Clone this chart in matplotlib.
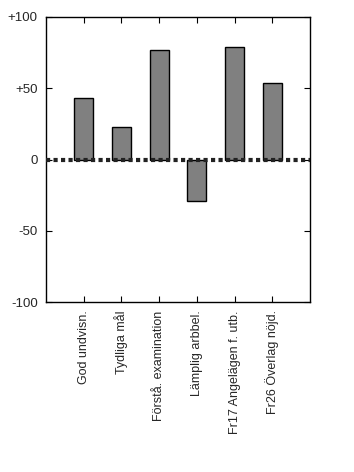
import matplotlib
matplotlib.use("Agg")
import matplotlib.pyplot as plt

categories = ["God undvisn.", "Tydliga mål", "Förstå. examination",
              "Lämplig arbbel.", "Fr17 Angelägen f. utb.", "Fr26 Överlag nöjd."]
values = [43, 23, 77, -29, 79, 54]
yticks = [-100, -50, 0, 50, 100]
ytick_labels = ["-100", "-50", "0", "+50", "+100"]

plt.rcParams["font.family"] = ["Liberation Sans", "DejaVu Sans"]
plt.rcParams["font.size"] = 9.5

fig = plt.figure(figsize=(3.54, 4.72), dpi=100)
ax = fig.add_axes([0.130, 0.360, 0.746, 0.604])

pos = list(range(1, len(values) + 1))
ax.bar(pos, values, width=0.5, color="#808080", edgecolor="black", linewidth=1, zorder=2)
ax.axhline(0, color="#222222", linewidth=3, linestyle=(0, (1, 0.8)), zorder=3)

ax.set_xlim(0, len(values) + 1)
ax.set_ylim(-100, 100)
ax.set_yticks(yticks)
ax.set_yticklabels(ytick_labels)
ax.set_xticks(pos)
ax.set_xticklabels(categories, rotation=90, fontsize=9)
ax.tick_params(direction="in", top=True, right=True, length=4, width=0.8,
               color="black", labelcolor="#262626")
ax.tick_params(axis="y", pad=6)
ax.tick_params(axis="x", pad=6)
for s in ax.spines.values():
    s.set_linewidth(1)

fig.savefig("out.png", dpi=100)
